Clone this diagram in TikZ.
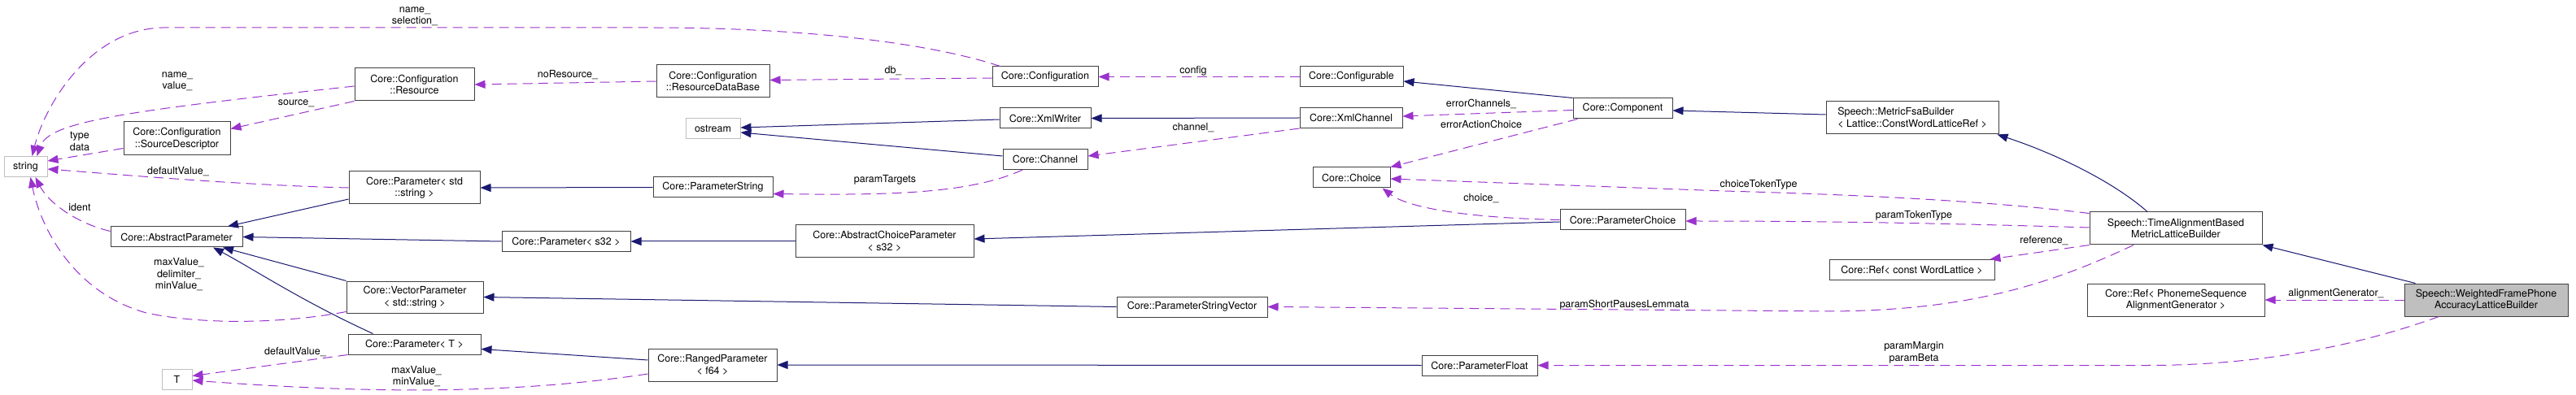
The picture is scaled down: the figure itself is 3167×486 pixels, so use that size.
\documentclass[tikz,border=0pt]{standalone}
\usepackage{fontspec}
\setmainfont{TeX Gyre Heros}
\usetikzlibrary{arrows.meta}

\definecolor{edgeblue}{HTML}{191970}
\definecolor{edgepurple}{HTML}{9A32CD}
\definecolor{boxgray}{HTML}{BFBFBF}

\begin{document}
\begin{tikzpicture}[x=1pt, y=-1pt,
  cls/.style={draw=black!75, line width=1pt, fill=white, inner sep=0pt,
    minimum height=25pt, align=center, font=\fontsize{12.5}{14.5}\selectfont},
  ext/.style={cls, draw=boxgray},
  lbl/.style={inner sep=0pt, align=center, font=\fontsize{12.5}{14.5}\selectfont},
  inherit/.style={draw=edgeblue, line width=1pt, -{Triangle[length=13pt, width=10pt]}},
  uses/.style={draw=edgepurple, line width=1pt, dash pattern=on 12pt off 7pt,
    -{Triangle[length=13pt, width=10pt]}}]

  \useasboundingbox (0,0) rectangle (3167,486);

  % 类节点
  \node[ext, minimum width=53pt] (str) at (31.5,205) {string};
  \node[cls, minimum width=131pt, minimum height=41pt] (srcDesc) at (217.5,170.5) {Core::Configuration\\::SourceDescriptor};
  \node[cls, minimum width=147pt, minimum height=40pt] (resource) at (509.5,104) {Core::Configuration\\::Resource};
  \node[cls, minimum width=161pt, minimum height=40pt] (paramStd) at (509.5,231) {Core::Parameter< std\\::string >};
  \node[cls, minimum width=162pt] (absParam) at (217,291.5) {Core::AbstractParameter};
  \node[cls, minimum width=168pt, minimum height=39pt] (vecParam) at (510,365.5) {Core::VectorParameter\\< std::string >};
  \node[cls, minimum width=163pt] (paramT) at (509.5,423.5) {Core::Parameter< T >};
  \node[ext, minimum width=37pt] (tType) at (217.5,466.5) {T};
  \node[cls, minimum width=139pt, minimum height=40pt] (resDB) at (876.5,100) {Core::Configuration\\::ResourceDataBase};
  \node[ext, minimum width=67pt] (ostream) at (876.5,158.5) {ostream};
  \node[cls, minimum width=147pt] (paramStr) at (876.5,230.5) {Core::ParameterString};
  \node[cls, minimum width=158pt] (paramS32) at (696,297) {Core::Parameter< s32 >};
  \node[cls, minimum width=219pt, minimum height=40pt] (absChoice) at (1087.5,297) {Core::AbstractChoiceParameter\\< s32 >};
  \node[cls, minimum width=158pt, minimum height=40pt] (ranged) at (876,449) {Core::RangedParameter\\< f64 >};
  \node[cls, minimum width=130pt] (config) at (1285,94.5) {Core::Configuration};
  \node[cls, minimum width=112pt] (xmlWriter) at (1285,145.5) {Core::XmlWriter};
  \node[cls, minimum width=104pt] (channel) at (1285,196) {Core::Channel};
  \node[cls, minimum width=185pt] (paramStrVec) at (1465.5,377.5) {Core::ParameterStringVector};
  \node[cls, minimum width=127pt] (configurable) at (1661.5,94.5) {Core::Configurable};
  \node[cls, minimum width=126pt] (xmlChannel) at (1661,145) {Core::XmlChannel};
  \node[cls, minimum width=122pt] (component) at (1995,133.5) {Core::Component};
  \node[cls, minimum width=95pt] (choice) at (1661.5,218.5) {Core::Choice};
  \node[cls, minimum width=154pt] (paramChoice) at (1995,270.5) {Core::ParameterChoice};
  \node[cls, minimum width=142pt] (paramFloat) at (1819,449.5) {Core::ParameterFloat};
  \node[cls, minimum width=212pt, minimum height=40pt, align=left] (metricFsa) at (2351,145) {Speech::MetricFsaBuilder\\< Lattice::ConstWordLatticeRef >};
  \node[cls, minimum width=212pt, minimum height=40pt] (timeAlign) at (2675,281) {Speech::TimeAlignmentBased\\MetricLatticeBuilder};
  \node[cls, minimum width=203pt] (refLattice) at (2350.5,332) {Core::Ref< const WordLattice >};
  \node[cls, minimum width=218pt, minimum height=40pt] (refAlign) at (2675,369) {Core::Ref< PhonemeSequence\\AlignmentGenerator >};
  \node[cls, fill=boxgray, minimum width=201pt, minimum height=40pt] (wfpBuilder) at (3056.5,369) {Speech::WeightedFramePhone\\AccuracyLatticeBuilder};

  % 继承关系（蓝色实线）
  \draw[inherit] ([yshift=-14pt]paramStd.west) -- ([xshift=63pt]absParam.north);
  \draw[inherit] (paramS32.west) -- (absParam.east);
  \draw[inherit] (vecParam.north west) -- ([xshift=57pt]absParam.south);
  \draw[inherit] ([xshift=-51pt]paramT.north) .. controls (370,370) and (310,330) .. ([xshift=45pt]absParam.south);
  \draw[inherit] (paramStr.west) -- (paramStd.east);
  \draw[inherit] (absChoice.west) -- (paramS32.east);
  \draw[inherit] (paramStrVec.west) -- (vecParam.east);
  \draw[inherit] ([yshift=6pt]ranged.west) -- ([yshift=-6pt]paramT.east);
  \draw[inherit] (paramFloat.west) -- (ranged.east);
  \draw[inherit] ([yshift=-2.5pt]paramChoice.west) -- ([yshift=3pt]absChoice.east);
  \draw[inherit] ([yshift=-1.5pt]xmlWriter.west) -- ([yshift=1.5pt]ostream.east);
  \draw[inherit] ([yshift=4pt]channel.west) -- ([yshift=-4.5pt]ostream.east);
  \draw[inherit] (xmlChannel.west) -- (xmlWriter.east);
  \draw[inherit] (component.north west) -- ([yshift=-5.5pt]configurable.east);
  \draw[inherit] ([yshift=4pt]metricFsa.west) -- ([yshift=-2.5pt]component.east);
  \draw[inherit] ([xshift=-35pt]timeAlign.north) .. controls (2600,225) and (2530,190) .. ([xshift=-2pt]metricFsa.south east);
  \draw[inherit] ([xshift=14pt]wfpBuilder.north west) -- (timeAlign.south east);

  % 使用关系（紫色虚线）
  \draw[uses] ([xshift=10pt]config.north west) .. controls (1150,55) and (1000,34) .. (800,34) -- (200,34) .. controls (110,36) and (55,130) .. ([xshift=8pt]str.north);
  \draw[uses] ([yshift=-2pt]resource.west) .. controls (150,137) and (60,150) .. ([xshift=14pt]str.north);
  \draw[uses] ([yshift=-12pt]srcDesc.west) -- ([yshift=7pt]str.east);
  \draw[uses] (resource.south west) -- ([yshift=12pt]srcDesc.east);
  \draw[uses] (resDB.west) -- (resource.east);
  \draw[uses] ([yshift=-1.5pt]config.west) -- ([yshift=1.5pt]resDB.east);
  \draw[uses] (configurable.west) -- (config.east);
  \draw[uses] ([yshift=-2pt]component.west) -- ([yshift=2pt]xmlChannel.east);
  \draw[uses] ([xshift=6pt]component.south west) -- (choice.north east);
  \draw[uses] (xmlChannel.south west) -- ([yshift=4pt]channel.east);
  \draw[uses] ([xshift=-28pt]channel.south) .. controls (1190,240) and (1080,240) .. ([yshift=-8pt]paramStr.east);
  \draw[uses] (paramChoice.west) .. controls (1800,268) and (1730,255) .. ([xshift=-10pt]choice.south east);
  \draw[uses] ([yshift=-2pt]timeAlign.north west) .. controls (2450,248) and (2300,240) .. (2120,235) -- ([yshift=-1.5pt]choice.east);
  \draw[uses] ([yshift=1pt]timeAlign.west) .. controls (2400,275) and (2250,272) .. ([yshift=-1.5pt]paramChoice.east);
  \draw[uses] (timeAlign.south west) -- ([xshift=-6pt]refLattice.north east);
  \draw[uses] ([xshift=-52pt]timeAlign.south) .. controls (2520,350) and (2420,382) .. (2250,383) -- (paramStrVec.east);
  \draw[uses] (wfpBuilder.west) -- (refAlign.east);
  \draw[uses] ([xshift=-58pt]wfpBuilder.south) .. controls (2900,425) and (2780,449.5) .. (2640,449.5) -- (paramFloat.east);
  \draw[uses] (paramStd.west) .. controls (300,228) and (150,215) .. ([yshift=-3pt]str.east);
  \draw[uses] ([yshift=7pt]absParam.west) .. controls (95,275) and (60,250) .. ([xshift=12pt]str.south);
  \draw[uses] ([yshift=-18pt]vecParam.west) .. controls (350,398) and (250,400) .. (180,385) .. controls (90,360) and (50,280) .. ([xshift=6pt]str.south);
  \draw[uses] (paramT.south west) -- ([yshift=4pt]tType.east);
  \draw[uses] ([yshift=-11pt]ranged.west) .. controls (600,490) and (400,480) .. ([yshift=-1.5pt]tType.east);

  % 成员名标注
  \node[lbl] (lSelection) at (510,20) {name\_\\selection\_};
  \node[lbl] (lNameValue) at (218,100) {name\_\\value\_};
  \node[lbl] (lTypeData) at (98,174) {type\\data};
  \node[lbl] (lSource) at (364,127) {source\_};
  \node[lbl] (lNoRes) at (698,92) {noResource\_};
  \node[lbl] (lDb) at (1098,87) {db\_};
  \node[lbl] (lConfig) at (1467,87) {config};
  \node[lbl] (lErrChan) at (1821,128) {errorChannels\_};
  \node[lbl] (lErrAct) at (1821,153) {errorActionChoice};
  \node[lbl] (lChannel) at (1467,157) {channel\_};
  \node[lbl] (lTargets) at (1088,221) {paramTargets};
  \node[lbl] (lChoice) at (1821,244) {choice\_};
  \node[lbl] (lChoiceTok) at (2162,227) {choiceTokenType};
  \node[lbl] (lParamTok) at (2353,265) {paramTokenType};
  \node[lbl] (lReference) at (2513,296) {reference\_};
  \node[lbl] (lShortPauses) at (1997,375) {paramShortPausesLemmata};
  \node[lbl] (lAlignGen) at (2872,361) {alignmentGenerator\_};
  \node[lbl] (lMargin) at (2353,434) {paramMargin\\paramBeta};
  \node[lbl] (lDefault) at (219,211) {defaultValue\_};
  \node[lbl] (lIdent) at (98,255) {ident};
  \node[lbl] (lMaxDelim) at (220,338) {maxValue\_\\delimiter\_\\minValue\_};
  \node[lbl] (lDefaultT) at (363,433) {defaultValue\_};
  \node[lbl] (lMaxMin) at (512,463) {maxValue\_\\minValue\_};

\end{tikzpicture}
\end{document}
